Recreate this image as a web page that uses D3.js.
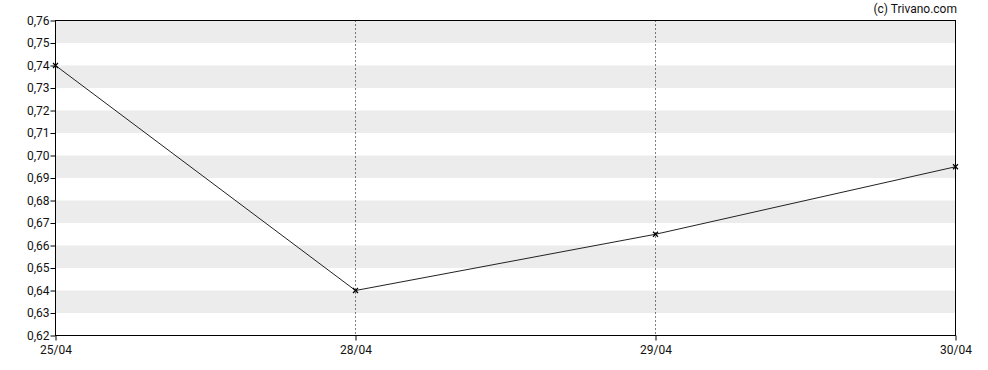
<!DOCTYPE html>
<html>
<head>
    <meta charset="utf-8">
    <title>Line Chart</title>
    <script src="https://d3js.org/d3.v7.min.js"></script>
    <style>
        body { margin: 0; background: #fff; }
        text { font-family: Roboto, sans-serif; font-size: 12px; fill: #111; }
    </style>
</head>
<body>
    <svg width="988" height="370"></svg>
    <script>
        const dates = ["25/04", "28/04", "29/04", "30/04"]
        const prices = [0.74, 0.64, 0.665, 0.695]
        const yTicks = [0.62, 0.63, 0.64, 0.65, 0.66, 0.67, 0.68, 0.69, 0.70, 0.71, 0.72, 0.73, 0.74, 0.75, 0.76]

        const svg = d3.select("svg")
        const margin = { top: 20, right: 32.5, bottom: 35, left: 55.5 }
        const width = +svg.attr("width")
        const height = +svg.attr("height")
        const innerWidth = width - margin.left - margin.right
        const innerHeight = height - margin.top - margin.bottom

        const xScale = d3.scalePoint().domain(dates).range([0, innerWidth])
        const yScale = d3.scaleLinear().domain([0.62, 0.76]).range([innerHeight, 0])

        const g = svg.append("g")
            .attr("transform", `translate(${margin.left},${margin.top + 0.5})`)

        // alternating grey bands
        g.selectAll("rect.band")
            .data(yTicks.slice(0, -1).filter((d, i) => i % 2 === 1))
            .enter().append("rect")
            .attr("class", "band")
            .attr("x", 0)
            .attr("width", innerWidth)
            .attr("y", d => yScale(d + 0.01))
            .attr("height", d => yScale(d) - yScale(d + 0.01))
            .attr("fill", "#ececec")

        // dotted vertical lines at inner dates
        g.selectAll("line.vgrid")
            .data(dates.slice(1, -1))
            .enter().append("line")
            .attr("x1", d => xScale(d)).attr("x2", d => xScale(d))
            .attr("y1", 0).attr("y2", innerHeight)
            .attr("stroke", "#000")
            .attr("stroke-dasharray", "1,3")

        const yAxis = d3.axisLeft(yScale)
            .tickValues(yTicks)
            .tickSize(5)
            .tickFormat(d => d3.format(".2f")(d).replace(".", ","))
        const xAxis = d3.axisBottom(xScale).tickSize(5).tickSizeOuter(0)

        const ya = g.append("g").call(yAxis)
        ya.select(".domain").remove()
        ya.selectAll("line").attr("stroke", "#000")
        ya.selectAll("text").attr("x", -6)

        const xa = g.append("g").attr("transform", `translate(0,${innerHeight})`).call(xAxis)
        xa.select(".domain").remove()
        xa.selectAll("line").attr("stroke", "#000")
        xa.selectAll("text").attr("dy", "0.9em")

        // frame
        g.append("rect")
            .attr("x", 0).attr("y", 0)
            .attr("width", innerWidth).attr("height", innerHeight)
            .attr("fill", "none").attr("stroke", "#000")

        const line = d3.line()
            .x((d, i) => xScale(dates[i]))
            .y(d => yScale(d))

        g.append("path")
            .datum(prices)
            .attr("d", line)
            .attr("fill", "none")
            .attr("stroke", "#222")
            .attr("stroke-width", 1)

        // x markers
        const m = 2.5
        const markers = g.selectAll("g.marker")
            .data(prices)
            .enter().append("g")
            .attr("transform", (d, i) => `translate(${xScale(dates[i])},${yScale(d)})`)
        markers.append("path")
            .attr("d", `M${-m},${-m}L${m},${m}M${-m},${m}L${m},${-m}`)
            .attr("stroke", "#000")
            .attr("stroke-width", 1.2)

        svg.append("text")
            .attr("x", 957)
            .attr("y", 13)
            .attr("text-anchor", "end")
            .text("(c) Trivano.com")
    </script>
</body>
</html>
